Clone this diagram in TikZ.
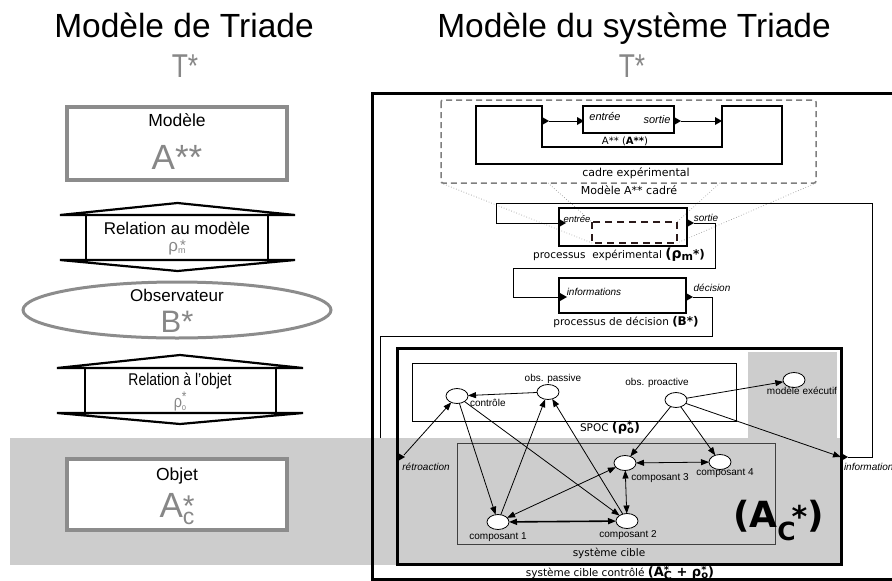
\documentclass[tikz,border=0pt]{standalone}
\usepackage{fontspec}
\setmainfont{Liberation Sans}
\newfontfamily\dv{DejaVu Sans}
\usetikzlibrary{arrows.meta,shapes.geometric}

\definecolor{framegray}{HTML}{8C8C8C}
\definecolor{softgray}{HTML}{878787}
\definecolor{bandgray}{HTML}{CDCDCD}
\definecolor{dashgray}{HTML}{7F7F7F}
\definecolor{darkdash}{HTML}{2B1A1A}

% font size in points (1pt = 1px here)
\newcommand{\fs}[1]{\fontsize{#1}{#1}\selectfont}
% superscript #1 stacked over subscript #2, raised by #3 and #4
\newcommand{\stk}[4]{\makebox[0pt][l]{\raisebox{#3}{#1}}\raisebox{#4}{#2}}
% small filled port triangle, base at x=#1, centred on y=#2, pointing right
\newcommand{\portmark}[2]{\fill (#1,#2) ++(0,-4) -- ++(7,4) -- ++(-7,4) -- cycle;}

\begin{document}
\begin{tikzpicture}[x=1pt,y=-1pt,
  every node/.style={inner sep=0pt,outer sep=0pt},
  heavybox/.style={draw=framegray,line width=4pt,fill=white},
  relshape/.style={line width=2.2pt,line join=miter},
  unit/.style={ellipse,draw,fill=white,line width=0.8pt,minimum width=22pt,minimum height=15pt},
  link/.style={line width=0.8pt,-{Triangle[length=8pt,width=6pt]}},
  dlink/.style={line width=0.8pt,{Triangle[length=8pt,width=6pt]}-{Triangle[length=8pt,width=6pt]}},
  wire/.style={line width=0.8pt},
  frame/.style={line width=2.5pt},
  zoomline/.style={draw=gray!80,dotted,line width=0.7pt},
  unitlbl/.style={font=\fs{10}},
  portlbl/.style={font=\itshape\fs{10}}
]
\useasboundingbox (0,0) rectangle (892,581);
\clip (0,0) rectangle (892,581);

% ---------- feedback wire from the decision process (runs under the band)
\coordinate (dec-out) at (693,297);
\coordinate (retro-in) at (398,457);
\draw[wire] (dec-out) -| (712,336) -| (380,457) -- (retro-in);

% ---------- grey background band and executive area
\fill[bandgray] (10,438) rectangle (841,565);
\fill[bandgray] (748,352) rectangle (837,438);

% ---------- titles
\node[font=\fs{33.5},anchor=base] (title-l) at (184,37) {Modèle de Triade};
\node[font=\fs{33.5},anchor=base] (title-r) at (634,37) {Modèle du système Triade};
\node[text=softgray,anchor=base] (tstar-l) at (185,77) {\scalebox{0.8}[1]{\fs{33}T*}};
\node[text=softgray,anchor=base] (tstar-r) at (632,77) {\scalebox{0.8}[1]{\fs{33}T*}};

% ---------- left column: the triad
\node[heavybox,minimum width=220pt,minimum height=73pt] (modele) at (177,143.5) {};
\node[font=\fs{17.5}] (modele-t) at (177,120) {Modèle};
\node[font=\fs{35},text=softgray] (modele-s) at (177,157) {A**};

\draw[relshape] (60,215) -- (177.5,203) -- (295,215) -- cycle;
\node[draw,line width=2.2pt,minimum width=182pt,minimum height=45pt] (relm) at (177,237.5) {};
\draw[relshape] (60,260) -- (177.5,271) -- (295,260) -- cycle;
\node[font=\fs{17}] (relm-t) at (177,228) {Relation au modèle};
\node[text=softgray] (relm-s) at (177,248)
  {\fs{17}ρ\stk{\kern2pt\fs{15}*}{\fs{9}m}{1pt}{-2pt}};

\node[ellipse,draw=framegray,line width=3pt,minimum width=308pt,minimum height=56pt] (obs) at (177,310) {};
\node[font=\fs{17}] (obs-t) at (177,295) {Observateur};
\node[font=\fs{31},text=softgray] (obs-s) at (177,322) {B*};

\draw[relshape] (57,368) -- (180,355) -- (303,368) -- cycle;
\node[draw,line width=2.2pt,minimum width=191pt,minimum height=45pt] (relo) at (180.5,390.5) {};
\draw[relshape] (57,413) -- (180,424) -- (303,413) -- cycle;
\node (relo-t) at (180,381) {\scalebox{0.82}[1]{\fs{17}Relation à l'objet}};
\node[text=softgray] (relo-s) at (180,401)
  {\scalebox{0.85}[1]{\fs{17}ρ\stk{\fs{14}*}{\fs{9}o}{6pt}{-3pt}}};

\node[heavybox,minimum width=220pt,minimum height=71pt] (objet) at (177,494.5) {};
\node[font=\fs{17.5}] (objet-t) at (177,476) {Objet};
\node[text=softgray,anchor=base] (objet-s) at (177,517)
  {\fs{35}A\stk{\fs{30}*}{\fs{23}c}{1pt}{-7pt}};

% ---------- right: outer frame
\draw[line width=3pt] (372,93) rectangle (900,579);

% framed model A**
\draw[dashgray,line width=1.5pt,dash pattern=on 6pt off 4pt,rounded corners=2pt]
  (441,100) rectangle (816,183);
\draw[frame] (476,106) -- (542,106) -- (542,147) -- (722,147) -- (722,106)
  -- (782,106) -- (782,164) -- (476,164) -- cycle;
\node[draw,frame,minimum width=91pt,minimum height=27pt] (amodel) at (628.5,119.5) {};
\node[font=\itshape\fs{11}] (am-in) at (605,117) {entrée};
\node[font=\itshape\fs{11}] (am-out) at (657,120) {sortie};
\node[font=\dv\fs{10}] (am-name) at (625,141) {A** (\textbf{A**})};
\node[font=\dv\fs{11}] (cadre-t) at (636,173) {cadre expérimental};
\node[font=\dv\fs{11}] (cadre-m) at (629,190) {Modèle A** cadré};
\coordinate (cadre-o) at (549,121);
\coordinate (am-i) at (577,121);
\coordinate (am-o) at (681,121);
\coordinate (cadre-i) at (715,121);
\draw[wire] (cadre-o) -- (am-i);
\draw[wire] (am-o) -- (cadre-i);
\portmark{542}{121}
\portmark{577}{121}
\portmark{674}{121}
\portmark{715}{121}

% zoom guides towards the experimental process
\draw[zoomline] (441,183) -- (592,243);
\draw[zoomline] (548,183) -- (592,222);
\draw[zoomline] (720,183) -- (677,222);
\draw[zoomline] (816,183) -- (677,243);

% experimental process
\node[draw,frame,minimum width=128pt,minimum height=38pt] (pexp) at (623,227) {};
\draw[darkdash,line width=2.2pt,dash pattern=on 7pt off 5pt] (592,222) rectangle (677,243);
\node[font=\itshape\fs{9.5}] (pexp-in) at (577,219) {entrée};
\node[portlbl] (pexp-out) at (706,218) {sortie};
\node[font=\dv\fs{10.5}] (pexp-t) at (619,255)
  {processus~ expérimental \textbf{\fs{14}(ρ\raisebox{-2pt}{\fs{11}m}\fs{12}*)}};
\coordinate (pexp-i) at (559,223);
\coordinate (pexp-o) at (694,223);
\portmark{559}{223}
\portmark{687}{223}

% decision process
\node[draw,frame,minimum width=127pt,minimum height=35pt] (pdec) at (622.5,295.5) {};
\node[portlbl] (pdec-in) at (594,292) {informations};
\node[portlbl] (pdec-out) at (712,288) {décision};
\node[font=\dv\fs{10.5}] (pdec-t) at (626,322) {processus de décision \textbf{\fs{12}(B*)}};
\coordinate (pdec-i) at (560,297);
\portmark{560}{297}
\portmark{686}{297}

% information loop and output-to-decision loop
\coordinate (info-in) at (841,457);
\coordinate (info-o) at (848,457);
\draw[wire] (info-o) -- (872,457) |- (496,203) |- (pexp-i);
\draw[wire] (pexp-o) -| (715,268) -| (513,297) -- (pdec-i);

% controlled target system
\draw[line width=3pt] (397,348) rectangle (841,564);
\node[draw,line width=1pt,minimum width=324pt,minimum height=58pt] (spoc) at (574,392) {};
\node[font=\dv\fs{10.5}] (spoc-t) at (610,428)
  {SPOC \textbf{\fs{13}(ρ\stk{\fs{10}*}{\fs{10}o}{3pt}{-2pt})}};
\node[draw=black!75,line width=1pt,minimum width=318pt,minimum height=101pt] (cible) at (616,493.5) {};
\node[font=\dv\fs{10.5}] (cible-t) at (609,553) {système cible};
\node[font=\dv\fs{10.5}] (ctrl-t) at (620,573)
  {système cible contrôlé \textbf{\fs{13}(A\stk{\fs{10}*}{\fs{11}C}{3pt}{-3pt} + ρ\stk{\fs{10}*}{\fs{10}o}{3pt}{-2pt})}};
\node[font=\dv\bfseries\fs{36},anchor=base west] (ac-big) at (733,527)
  {(A\raisebox{-13pt}{\fs{25}C}\kern-4pt{\fs{30}*})};

% units
\node[unit] (ctl) at (457,396) {};
\node[unit] (opa) at (548,392) {};
\node[unit] (opr) at (676,400) {};
\node[unit] (mex) at (794,380) {};
\node[unit] (c3) at (625,463) {};
\node[unit] (c4) at (720,462) {};
\node[unit] (c1) at (498,522) {};
\node[unit] (c2) at (627,521) {};

\node[unitlbl] (opa-t) at (553,379) {obs. passive};
\node[unitlbl] (opr-t) at (657,383) {obs. proactive};
\node[unitlbl] (mex-t) at (802,391) {modèle exécutif};
\node[unitlbl,anchor=west] (ctl-t) at (470,403) {contrôle};
\node[unitlbl] (c1-t) at (498,537) {composant 1};
\node[unitlbl] (c2-t) at (628,535) {composant 2};
\node[unitlbl] (c3-t) at (660,478) {composant 3};
\node[unitlbl] (c4-t) at (725,473) {composant 4};
\node[portlbl] (retro-t) at (426,467) {rétroaction};
\node[portlbl,anchor=west] (info-t) at (844,467) {information};
\portmark{398}{457}
\portmark{841}{457}
\coordinate (retro-o) at (404,455);

% links
\draw[link] (opa) -- (ctl);
\draw[link] (retro-o) -- (ctl);
\draw[link] (ctl) -- (c1);
\draw[link] (ctl) -- (c2);
\draw[link] (c1) -- (opa);
\draw[link] (c2) -- (opa);
\draw[link] (opr) -- (c3);
\draw[link] (opr) -- (c4);
\draw[link] (opr) -- (mex);
\draw[link] (opr) -- (info-in);
\draw[dlink] (c4) -- (c3);
\draw[dlink] (c3) -- (c2);
\draw[dlink] (c3) -- (c1);
\draw[dlink,line width=1.6pt] (c1) -- (c2);
\end{tikzpicture}
\end{document}
